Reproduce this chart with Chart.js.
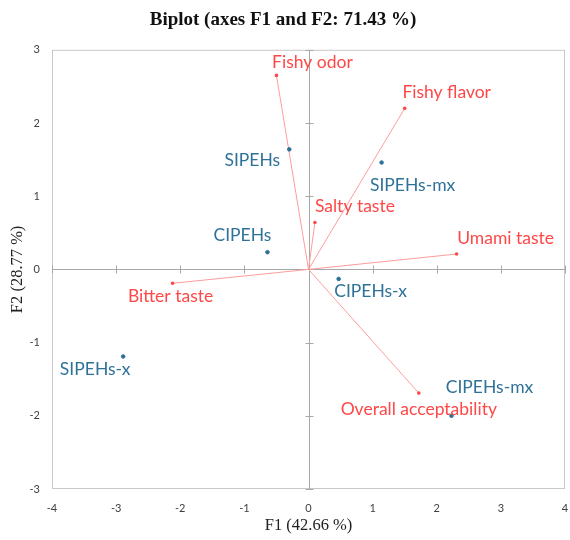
<!DOCTYPE html>
<html>
<head>
<meta charset="utf-8">
<script src="https://cdn.jsdelivr.net/npm/chart.js@4.4.1/dist/chart.umd.min.js"></script>
<style>
  html, body { margin: 0; padding: 0; background: #fff; }
  #wrap { width: 570px; height: 540px; }
</style>
</head>
<body>
<div id="wrap"><canvas id="biplot"></canvas></div>
<script>
// observations (blue)
const obsNames = ['SIPEHs', 'SIPEHs-mx', 'CIPEHs', 'CIPEHs-x', 'SIPEHs-x', 'CIPEHs-mx'];
const obsF1 = [-0.30, 1.14, -0.64, 0.47, -2.89, 2.23];
const obsF2 = [1.64, 1.46, 0.235, -0.13, -1.19, -2.00];

// variables (red vectors)
const varNames = ['Fishy odor', 'Fishy flavor', 'Salty taste', 'Umami taste', 'Bitter taste', 'Overall acceptability'];
const varF1 = [-0.50, 1.50, 0.10, 2.31, -2.12, 1.72];
const varF2 = [2.65, 2.20, 0.64, 0.21, -0.19, -1.69];

const axisTicks = [-4, -3, -2, -1, 0, 1, 2, 3, 4];

// label placement relative to the point (px)
const labelOffset = {
  'SIPEHs': [-37, 11], 'SIPEHs-mx': [31, 23], 'CIPEHs': [-25, -17],
  'CIPEHs-x': [32, 12], 'SIPEHs-x': [-28, 13], 'CIPEHs-mx': [38, -28],
  'Fishy odor': [36, -13], 'Fishy flavor': [42, -16], 'Salty taste': [40, -16],
  'Umami taste': [49, -16], 'Bitter taste': [-2, 13], 'Overall acceptability': [0, 16]
};

const blue = '#2f7299';
const red = '#ff4747';
const vecColor = '#ff9c9c';

const datasets = [{
  label: 'obs',
  data: obsNames.map((n, i) => ({ x: obsF1[i], y: obsF2[i], name: n })),
  backgroundColor: blue,
  borderColor: blue,
  pointRadius: 1.8,
  showLine: false
}];
varNames.forEach((n, i) => {
  datasets.push({
    label: n,
    data: [{ x: 0, y: 0 }, { x: varF1[i], y: varF2[i], name: n }],
    showLine: true,
    borderColor: vecColor,
    borderWidth: 1,
    backgroundColor: red,
    pointRadius: [0, 1.8],
    pointBorderWidth: 0
  });
});

const framePlugin = {
  id: 'frame',
  beforeDatasetsDraw(chart) {
    const { ctx, chartArea: a, scales: { x, y } } = chart;
    ctx.save();
    ctx.strokeStyle = '#c8c8c8';
    ctx.lineWidth = 1;
    ctx.strokeRect(a.left + 0.5, a.top + 0.5, a.width - 1, a.height - 1);
    const x0 = Math.round(x.getPixelForValue(0)) + 0.5;
    const y0 = Math.round(y.getPixelForValue(0)) + 0.5;
    ctx.strokeStyle = '#a8a8a8';
    ctx.beginPath();
    ctx.moveTo(x0, a.top); ctx.lineTo(x0, a.bottom);
    ctx.moveTo(a.left, y0); ctx.lineTo(a.right, y0);
    // small tick crosses on the zero lines
    axisTicks.forEach(v => {
      const px = Math.round(x.getPixelForValue(v)) + 0.5;
      ctx.moveTo(px, y0 - 4); ctx.lineTo(px, y0 + 4);
      if (v >= -3 && v <= 3) {
        const py = Math.round(y.getPixelForValue(v)) + 0.5;
        ctx.moveTo(x0 - 4, py); ctx.lineTo(x0 + 4, py);
      }
    });
    ctx.stroke();
    ctx.restore();
  },
  afterDatasetsDraw(chart) {
    const { ctx } = chart;
    ctx.save();
    ctx.font = '17.5px Lato, "Open Sans", sans-serif';
    ctx.textAlign = 'center';
    ctx.textBaseline = 'middle';
    chart.data.datasets.forEach((ds, di) => {
      const meta = chart.getDatasetMeta(di);
      ds.data.forEach((d, i) => {
        if (!d.name) return;
        const el = meta.data[i];
        const off = labelOffset[d.name] || [0, 0];
        ctx.fillStyle = di === 0 ? blue : red;
        ctx.fillText(d.name, el.x + off[0], el.y + off[1]);
      });
    });
    ctx.restore();
  }
};

new Chart(document.getElementById('biplot'), {
  type: 'scatter',
  data: { datasets },
  options: {
    responsive: true,
    maintainAspectRatio: false,
    animation: false,
    layout: { padding: { top: 0, right: 4, bottom: 0, left: 0 } },
    scales: {
      x: {
        type: 'linear', min: -4, max: 4,
        afterBuildTicks: s => { s.ticks = axisTicks.map(v => ({ value: v })); },
        afterFit: s => { s.height = 51; s.paddingLeft = 0; s.paddingRight = 0; },
        ticks: { color: '#404040', font: { family: 'Lato, sans-serif', size: 11 }, padding: 5 },
        grid: { display: false },
        border: { display: false },
        title: { display: true, text: 'F1 (42.66 %)', color: '#222', font: { family: '"Liberation Serif", serif', size: 16.5 }, padding: { top: 6 } }
      },
      y: {
        type: 'linear', min: -3, max: 3,
        ticks: { stepSize: 1, color: '#404040', font: { family: 'Lato, sans-serif', size: 11 }, padding: 4 },
        afterFit: s => { s.width = 52; },
        grid: { display: false },
        border: { display: false },
        title: { display: true, text: 'F2 (28.77 %)', color: '#222', font: { family: '"Liberation Serif", serif', size: 16.5 }, padding: { top: 8, bottom: 0 } }
      }
    },
    plugins: {
      legend: { display: false },
      tooltip: { enabled: false },
      title: {
        display: true,
        text: 'Biplot (axes F1 and F2: 71.43 %)',
        color: '#111',
        font: { family: '"Liberation Serif", serif', size: 19, weight: 'bold' },
        padding: { top: 9, bottom: 18 }
      }
    }
  },
  plugins: [framePlugin]
});
</script>
</body>
</html>
